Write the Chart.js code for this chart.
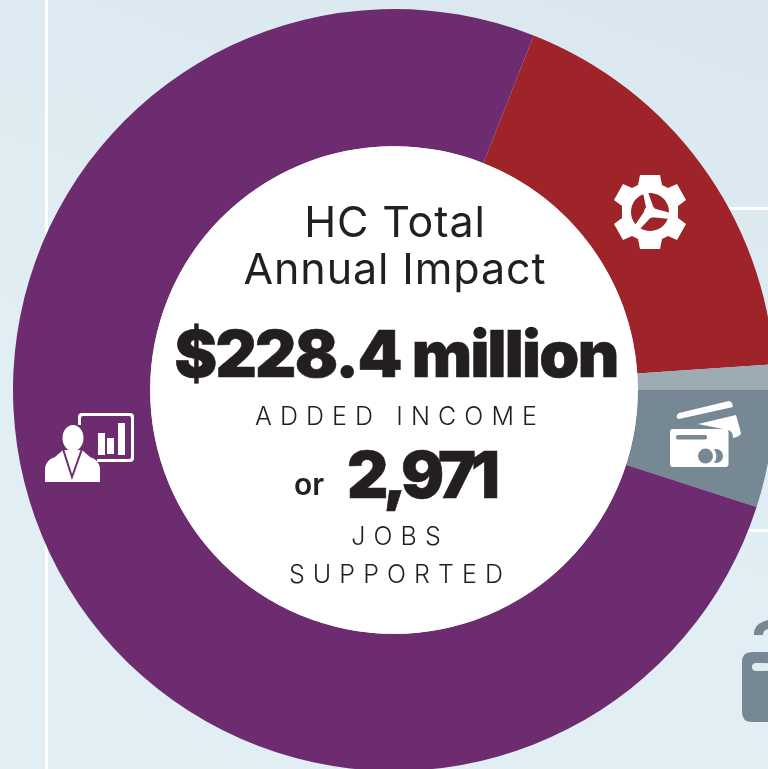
<!DOCTYPE html>
<html>
<head>
<meta charset="utf-8">
<script src="https://cdn.jsdelivr.net/npm/chart.js@4/dist/chart.umd.min.js"></script>
<style>
  html, body { margin: 0; padding: 0; width: 768px; height: 769px; overflow: hidden; }
  body { position: relative; background: linear-gradient(200deg, #dae7ee 0%, #e1eef4 55%); font-family: Inter, sans-serif; color: #231f20; }
  .rule { position: absolute; background: #fff; }
  #chart { position: absolute; left: 0; top: 0; }
  .txt { position: absolute; white-space: nowrap; text-align: center; left: 0; width: 788px; }
  .title { font-size: 43px; line-height: 48px; font-weight: 400; letter-spacing: 0.9px; left: 1px; }
  .big { font-weight: 900; font-size: 64px; line-height: 76px; -webkit-text-stroke: 0.6px #231f20; }
  .spaced { font-size: 25px; line-height: 30px; letter-spacing: 8.1px; font-weight: 300; left: 6px; }
  svg { position: absolute; overflow: visible; }
</style>
</head>
<body>
<div class="rule" style="left:45px;top:0;width:3px;height:769px"></div>
<div class="rule" style="left:700px;top:207px;width:68px;height:2.5px"></div>
<div class="rule" style="left:700px;top:529px;width:68px;height:2.5px"></div>
<canvas id="chart" width="788" height="780"></canvas>

<div class="txt title" style="top:197px">HC Total</div>
<div class="txt title" style="top:244px">Annual Impact</div>
<div class="txt big" style="top:316px;left:2px;letter-spacing:-1.7px">$228.4 million</div>
<div class="txt spaced" style="top:401px">ADDED INCOME</div>
<div class="txt big" style="top:437px;left:27px;letter-spacing:-5px">2,971</div>
<div class="txt" style="top:466px;left:-85px;font-size:30px;font-weight:600">or</div>
<div class="txt spaced" style="top:521px">JOBS</div>
<div class="txt spaced" style="top:559px">SUPPORTED</div>

<svg style="left:0;top:0" width="768" height="769">
  <!-- gear -->
  <g transform="translate(650,212)" fill="#fff">
    <path fill-rule="evenodd" d="M-10,-37 H10 L12,-27 L18,-24 L27,-28 L36,-12 L28,-6 L28,6 L36,12 L27,28 L18,24 L12,27 L10,37 H-10 L-12,27 L-18,24 L-27,28 L-36,12 L-28,6 L-28,-6 L-36,-12 L-27,-28 L-18,-24 L-12,-27 Z M0,-19 A19,19 0 1 0 0.01,-19 Z"/>
    <circle r="6"/>
    <path d="M-3,0 L-7,-19 L-2,-20 L4,-3 Z M2,-4 L21,1 L20,7 L0,5 Z M-4,-3 L3,3 L-10,17 L-15,13 Z"/>
  </g>
  <!-- cards -->
  <g fill="#fff">
    <path d="M679,413 L729,401 Q732,401 733,407 L679,419 Q676,419 677,415 Z"/>
    <path d="M698,424 L736,415 L741,433 Q741,436 733,438 Q733,431 728,430 Z"/>
    <rect x="670" y="429" width="58.5" height="38" rx="3"/>
    <rect x="676" y="435" width="31" height="4.5" rx="2" fill="#758894"/>
    <circle cx="716" cy="456" r="7" fill="#758894"/>
    <circle cx="707" cy="456" r="9.5"/>
    <circle cx="705.5" cy="456" r="7.5" fill="#758894"/>
  </g>
  <!-- presenter -->
  <g fill="#fff">
    <ellipse cx="73" cy="438" rx="10.5" ry="13"/>
    <path d="M45,482 V468 Q46,460 55,457 L63,450 H82 L90,457 Q99,460 100,468 V482 Z"/>
    <path d="M63,449 L72,477 L82,449" fill="none" stroke="#6e2c70" stroke-width="2"/>
    <path d="M72,451 L69,458 L72,470 L75,458 Z"/>
    <path d="M78,417 Q78,413 82,413 H130 Q134,413 134,417 V458 Q134,462 130,462 H97 V459 H129 Q131,459 131,457 V418 Q131,416 129,416 H83 Q81,416 81,418 V425 H78 Z"/>
    <rect x="98" y="433" width="7" height="22"/>
    <rect x="107" y="438" width="7" height="16"/>
    <rect x="118" y="423" width="7" height="32"/>
  </g>
  <!-- bag in background -->
  <g fill="#758894">
    <path d="M742,662 Q742,652 752,652 H768 V722 H752 Q742,722 742,712 Z"/>
    <path d="M754,635 Q753,624 768,620 V629 Q763,630 763,635 Z"/>
    <rect x="752" y="663" width="18" height="8" rx="4" fill="#e0edf3"/>
  </g>
</svg>

<script>
// slice sizes in $ million
const categories = ['Operations', 'Student spending', 'Visitor spending', 'Alumni'];
const values = [41.0, 2.4, 11.4, 173.6];
const colors = ['#9e2429', '#9dabb3', '#758894', '#6e2c70'];

// white disc in the hole of the ring
const holeFill = {
    id: 'holeFill',
    afterDatasetsDraw(chart) {
        const arc = chart.getDatasetMeta(0).data[0];
        const ctx = chart.ctx;
        ctx.save();
        ctx.fillStyle = '#fff';
        ctx.beginPath();
        ctx.arc(arc.x, arc.y, arc.innerRadius, 0, Math.PI * 2);
        ctx.fill();
        ctx.restore();
    },
};

new Chart(document.getElementById('chart'), {
    type: 'doughnut',
    data: {
        labels: categories,
        datasets: [{
            data: values,
            backgroundColor: colors,
            borderWidth: 0,
        }],
    },
    options: {
        responsive: false,
        animation: false,
        rotation: 21.5,
        radius: 381,
        cutout: '64%',
        plugins: {
            legend: { display: false },
            tooltip: { enabled: false },
        },
    },
    plugins: [holeFill],
});
</script>
</body>
</html>
